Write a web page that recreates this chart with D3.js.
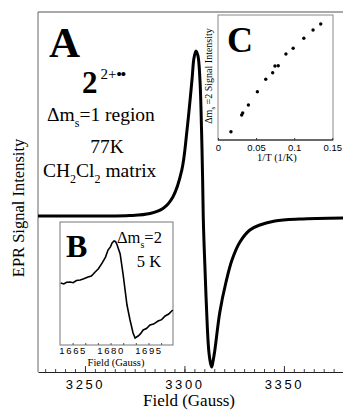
<!DOCTYPE html>
<html>
<head>
<meta charset="utf-8">
<script src="https://cdn.jsdelivr.net/npm/d3@7"></script>
<style>
  body { margin: 0; background: #fff; }
  svg { display: block; }
  .serif { font-family: "Liberation Serif", "Times New Roman", serif; }
  .sans { font-family: "Liberation Sans", Arial, sans-serif; }
</style>
</head>
<body>
<div id="chart"></div>
<script>
// main spectrum (A): field in gauss, intensity in arbitrary units
const mainField = [3226.4, 3257.5, 3272.6, 3282.7, 3289.2, 3294.2, 3298.7, 3301.3, 3303.8, 3304.8,
  3305.8, 3306.8, 3307.8, 3308.6, 3309.15, 3309.45, 3309.8, 3310.3, 3311.5, 3312.3,
  3313.2, 3313.7, 3314.3, 3315.3, 3317.8, 3320.9, 3323.9, 3327.9, 3332.9, 3337.9,
  3345.5, 3358.0, 3379.7];
const mainSignal = [0, 0, 0.003, 0.017, 0.05, 0.127, 0.307, 0.573, 0.907, 1.053,
  1.1, 1.067, 0.907, 0.573, 0.24, 0, -0.16, -0.34, -0.74, -0.907,
  -0.987, -1.007, -0.973, -0.893, -0.64, -0.44, -0.293, -0.173, -0.093, -0.06,
  -0.033, -0.02, -0.013];

// inset B: half-field line at 5 K
const insetBField = [1660.3, 1661.5, 1662.6, 1664.0, 1665.2, 1666.5, 1668.0, 1669.4, 1671.1, 1672.4,
  1673.9, 1675.2, 1676.7, 1678.0, 1679.0, 1680.0, 1680.6, 1681.4, 1682.0, 1682.6,
  1683.8, 1685.0, 1686.5, 1687.7, 1688.9, 1689.7, 1690.9, 1691.8, 1692.9, 1694.2,
  1695.6, 1697.0, 1698.8, 1700.2, 1701.6, 1703.0, 1704.6];
const insetBSignal = [50.4, 49.6, 51.0, 51.2, 50.6, 52.4, 52.8, 53.8, 55.3, 56.1,
  59.3, 62.0, 66.7, 71.5, 77.2, 80.0, 82.9, 84.6, 84.0, 81.3,
  74.0, 56.9, 32.5, 20.3, 9.8, 5.7, 7.3, 9.0, 12.2, 13.4,
  16.3, 17.0, 19.5, 20.6, 23.6, 25.2, 28.5];
const insetBTicks = [1665, 1680, 1695];

// inset C: dm=2 intensity vs 1/T
const invT = [0.017, 0.0311, 0.0324, 0.0399, 0.0517, 0.0627, 0.0718, 0.0748, 0.0791, 0.0892,
  0.0987, 0.1127, 0.1248, 0.1349];
const insetCSignal = [6.6, 20, 21.6, 28, 38.6, 48.6, 53.8, 59.2, 59.4, 68.8,
  73.4, 81.4, 88, 92.8];
const insetCTicks = [0, 0.05, 0.1, 0.15];

const mainTicks = [3250, 3300, 3350];

const W = 343, H = 411;
const svg = d3.select("#chart").append("svg")
  .attr("width", W).attr("height", H);

// ---- main panel ----
const x = d3.scaleLinear().domain([3226.4, 3379.7]).range([38, 343]);
const y = d3.scaleLinear().domain([-1.04, 1.36]).range([372, 12]);

svg.append("line").attr("x1", 38).attr("x2", 343).attr("y1", 12).attr("y2", 12)
  .attr("stroke", "#555").attr("stroke-width", 1.2);
svg.append("line").attr("x1", 38).attr("x2", 38).attr("y1", 12).attr("y2", 372)
  .attr("stroke", "#666").attr("stroke-width", 1);

const minorAxis = d3.axisBottom(x).tickValues(d3.range(3230, 3380, 5))
  .tickSizeInner(-3).tickSizeOuter(0).tickFormat("");
svg.append("g").attr("transform", "translate(0,372)").call(minorAxis)
  .call(g => g.select(".domain").attr("stroke", "#222").attr("stroke-width", 1.2))
  .call(g => g.selectAll(".tick line").attr("stroke", "#444"));

const majorAxis = d3.axisBottom(x).tickValues(mainTicks)
  .tickSizeInner(-6).tickSizeOuter(0).tickPadding(8).tickFormat(d3.format("d"));
svg.append("g").attr("transform", "translate(0,372)").call(majorAxis)
  .call(g => g.select(".domain").remove())
  .call(g => g.selectAll(".tick line").attr("stroke", "#333"))
  .call(g => g.selectAll(".tick text").attr("class", "sans")
    .attr("font-size", 13).attr("letter-spacing", "2.6px").attr("fill", "#000"));

svg.append("text").attr("class", "serif").attr("x", 189).attr("y", 406)
  .attr("text-anchor", "middle").attr("font-size", 17).text("Field (Gauss)");
svg.append("text").attr("class", "serif")
  .attr("transform", "translate(24,208) rotate(-90)")
  .attr("text-anchor", "middle").attr("font-size", 16.5).text("EPR Signal Intensity");

const line = d3.line().x((d, i) => x(mainField[i])).y(d => y(d)).curve(d3.curveCatmullRom);
svg.append("path").datum(mainSignal).attr("d", line)
  .attr("fill", "none").attr("stroke", "#000").attr("stroke-width", 3);

// annotations for A
svg.append("text").attr("class", "serif").attr("x", 49).attr("y", 57)
  .attr("font-size", 43).attr("font-weight", "bold").text("A");
const t2 = svg.append("text").attr("class", "serif").attr("x", 82).attr("y", 93);
t2.append("tspan").attr("font-size", 31).attr("font-weight", "bold").text("2");
t2.append("tspan").attr("font-size", 15).attr("dx", 3).attr("dy", -14).text("2+");
t2.append("tspan").attr("font-size", 15).attr("font-weight", "bold").attr("letter-spacing", "-1px").text("••");

const t3 = svg.append("text").attr("class", "serif").attr("x", 47).attr("y", 121).attr("font-size", 19.5);
t3.append("tspan").text("Δm");
t3.append("tspan").attr("font-size", 12).attr("dy", 6).text("s");
t3.append("tspan").attr("dy", -6).text("=1 region");

svg.append("text").attr("class", "serif").attr("x", 107).attr("y", 153)
  .attr("text-anchor", "middle").attr("font-size", 19.5).text("77K");

const t4 = svg.append("text").attr("class", "serif").attr("x", 43).attr("y", 177).attr("font-size", 19.5);
t4.append("tspan").text("CH");
t4.append("tspan").attr("font-size", 12).attr("dy", 6).text("2");
t4.append("tspan").attr("dy", -6).text("Cl");
t4.append("tspan").attr("font-size", 12).attr("dy", 6).text("2");
t4.append("tspan").attr("dy", -6).text(" matrix");

// ---- inset B ----
const bx = d3.scaleLinear().domain([1660, 1704.7]).range([60, 173]);
const by = d3.scaleLinear().domain([0, 100]).range([345, 222]);
svg.append("rect").attr("x", 60).attr("y", 222).attr("width", 113).attr("height", 123)
  .attr("fill", "#fff").attr("stroke", "#777").attr("stroke-width", 1);
svg.append("g").attr("transform", "translate(0,345)")
  .call(d3.axisBottom(bx).tickValues(d3.range(1665, 1705, 5)).tickSizeInner(-2).tickSizeOuter(0).tickFormat(""))
  .call(g => g.select(".domain").remove())
  .call(g => g.selectAll(".tick line").attr("stroke", "#555"));
svg.append("g").attr("transform", "translate(0,345)")
  .call(d3.axisBottom(bx).tickValues(insetBTicks).tickSizeInner(0).tickSizeOuter(0).tickPadding(2).tickFormat(d3.format("d")))
  .call(g => g.select(".domain").remove())
  .call(g => g.selectAll(".tick text").attr("class", "sans")
    .attr("font-size", 9.5).attr("letter-spacing", "1.6px").attr("fill", "#000"));
svg.append("text").attr("class", "serif").attr("x", 116).attr("y", 366)
  .attr("text-anchor", "middle").attr("font-size", 10.5).text("Field (Gauss)");

const bline = d3.line().x((d, i) => bx(insetBField[i])).y(d => by(d));
svg.append("path").datum(insetBSignal).attr("d", bline)
  .attr("fill", "none").attr("stroke", "#000").attr("stroke-width", 1.6);

svg.append("text").attr("class", "serif").attr("x", 66).attr("y", 257)
  .attr("font-size", 32).attr("font-weight", "bold").text("B");
const tb = svg.append("text").attr("class", "serif").attr("x", 117).attr("y", 243).attr("font-size", 16.5);
tb.append("tspan").text("Δm");
tb.append("tspan").attr("font-size", 10).attr("dy", 5).text("s");
tb.append("tspan").attr("dy", -5).text("=2");
svg.append("text").attr("class", "serif").attr("x", 149).attr("y", 267)
  .attr("text-anchor", "middle").attr("font-size", 16.5).text("5 K");

// ---- inset C ----
const cx = d3.scaleLinear().domain([0, 0.151]).range([218, 333]);
const cy = d3.scaleLinear().domain([0, 100]).range([140, 15]);
svg.append("rect").attr("x", 218).attr("y", 15).attr("width", 115).attr("height", 125)
  .attr("fill", "#fff").attr("stroke", "#888").attr("stroke-width", 1);
svg.append("line").attr("x1", 218).attr("x2", 333).attr("y1", 140).attr("y2", 140)
  .attr("stroke", "#111").attr("stroke-width", 1);
svg.append("g").attr("transform", "translate(0,140)")
  .call(d3.axisBottom(cx).tickValues(insetCTicks).tickSizeInner(-2).tickSizeOuter(0).tickPadding(4).tickFormat(d => d === 0 ? "0" : d3.format("")(d)))
  .call(g => g.select(".domain").remove())
  .call(g => g.selectAll(".tick line").attr("stroke", "#333"))
  .call(g => g.selectAll(".tick text").attr("class", "sans").attr("font-size", 9.5).attr("fill", "#000"));
svg.append("text").attr("class", "serif").attr("x", 277).attr("y", 161)
  .attr("text-anchor", "middle").attr("font-size", 10.5).text("1/T (1/K)");

const tc = svg.append("text").attr("class", "serif")
  .attr("transform", "translate(212,76) rotate(-90)")
  .attr("text-anchor", "middle").attr("font-size", 10);
tc.append("tspan").text("Δm");
tc.append("tspan").attr("font-size", 7).attr("dy", 3).text("s");
tc.append("tspan").attr("dy", -3).text(" =2 Signal Intensity");

svg.append("g").selectAll("circle").data(insetCSignal).join("circle")
  .attr("cx", (d, i) => cx(invT[i])).attr("cy", d => cy(d))
  .attr("r", 1.7).attr("fill", "#000");

svg.append("text").attr("class", "serif").attr("x", 227).attr("y", 52)
  .attr("font-size", 36).attr("font-weight", "bold").text("C");
</script>
</body>
</html>
